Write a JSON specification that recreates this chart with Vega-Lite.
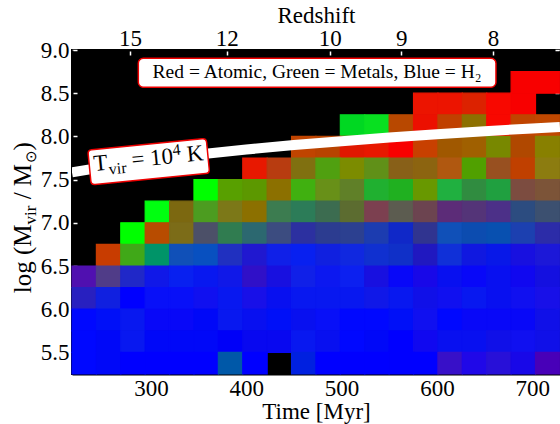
{
  "$schema": "https://vega.github.io/schema/vega-lite/v6.json",
  "width": 488,
  "height": 324,
  "autosize": {"type": "none"},
  "padding": {"left": 72, "top": 50, "right": 0, "bottom": 50},
  "background": "white",
  "config": {
    "font": "Liberation Serif",
    "view": {"fill": "black", "stroke": "black", "strokeWidth": 2},
    "axis": {"grid": false, "labelFont": "Liberation Serif", "titleFont": "Liberation Serif", "labelFontSize": 23, "titleFontSize": 23, "labelColor": "black", "titleColor": "black", "titleFontWeight": "normal", "tickColor": "white", "tickSize": -5, "tickWidth": 1.5, "domainColor": "black", "domainWidth": 2, "labelPadding": 8}
  },
  "datasets": {
    "cells": [
      {"t0":677.9,"t1":703.5,"m0":8.5,"m1":8.75,"rgb":"#f80000"},
      {"t0":703.5,"t1":729.1,"m0":8.5,"m1":8.75,"rgb":"#f80000"},
      {"t0":575.5,"t1":601.1,"m0":8.25,"m1":8.5,"rgb":"#ec1400"},
      {"t0":601.1,"t1":626.7,"m0":8.25,"m1":8.5,"rgb":"#ec1400"},
      {"t0":626.7,"t1":652.3,"m0":8.25,"m1":8.5,"rgb":"#dc2200"},
      {"t0":652.3,"t1":677.9,"m0":8.25,"m1":8.5,"rgb":"#f80800"},
      {"t0":677.9,"t1":703.5,"m0":8.25,"m1":8.5,"rgb":"#f80000"},
      {"t0":498.7,"t1":524.3,"m0":8.0,"m1":8.25,"rgb":"#00d822"},
      {"t0":524.3,"t1":549.9,"m0":8.0,"m1":8.25,"rgb":"#08e020"},
      {"t0":549.9,"t1":575.5,"m0":8.0,"m1":8.25,"rgb":"#b84800"},
      {"t0":575.5,"t1":601.1,"m0":8.0,"m1":8.25,"rgb":"#ec1000"},
      {"t0":601.1,"t1":626.7,"m0":8.0,"m1":8.25,"rgb":"#c04000"},
      {"t0":626.7,"t1":652.3,"m0":8.0,"m1":8.25,"rgb":"#8c7000"},
      {"t0":652.3,"t1":677.9,"m0":8.0,"m1":8.25,"rgb":"#f80800"},
      {"t0":677.9,"t1":703.5,"m0":8.0,"m1":8.25,"rgb":"#c04400"},
      {"t0":703.5,"t1":729.1,"m0":8.0,"m1":8.25,"rgb":"#c04800"},
      {"t0":447.5,"t1":473.1,"m0":7.75,"m1":8.0,"rgb":"#c04400"},
      {"t0":473.1,"t1":498.7,"m0":7.75,"m1":8.0,"rgb":"#b84400"},
      {"t0":498.7,"t1":524.3,"m0":7.75,"m1":8.0,"rgb":"#e01800"},
      {"t0":524.3,"t1":549.9,"m0":7.75,"m1":8.0,"rgb":"#e81800"},
      {"t0":549.9,"t1":575.5,"m0":7.75,"m1":8.0,"rgb":"#f80000"},
      {"t0":575.5,"t1":601.1,"m0":7.75,"m1":8.0,"rgb":"#c84000"},
      {"t0":601.1,"t1":626.7,"m0":7.75,"m1":8.0,"rgb":"#a05800"},
      {"t0":626.7,"t1":652.3,"m0":7.75,"m1":8.0,"rgb":"#a06000"},
      {"t0":652.3,"t1":677.9,"m0":7.75,"m1":8.0,"rgb":"#788800"},
      {"t0":677.9,"t1":703.5,"m0":7.75,"m1":8.0,"rgb":"#b04800"},
      {"t0":703.5,"t1":729.1,"m0":7.75,"m1":8.0,"rgb":"#888000"},
      {"t0":396.3,"t1":421.9,"m0":7.5,"m1":7.75,"rgb":"#e81800"},
      {"t0":421.9,"t1":447.5,"m0":7.5,"m1":7.75,"rgb":"#b83c10"},
      {"t0":447.5,"t1":473.1,"m0":7.5,"m1":7.75,"rgb":"#807010"},
      {"t0":473.1,"t1":498.7,"m0":7.5,"m1":7.75,"rgb":"#50a010"},
      {"t0":498.7,"t1":524.3,"m0":7.5,"m1":7.75,"rgb":"#7c8c00"},
      {"t0":524.3,"t1":549.9,"m0":7.5,"m1":7.75,"rgb":"#609018"},
      {"t0":549.9,"t1":575.5,"m0":7.5,"m1":7.75,"rgb":"#886018"},
      {"t0":575.5,"t1":601.1,"m0":7.5,"m1":7.75,"rgb":"#8c6410"},
      {"t0":601.1,"t1":626.7,"m0":7.5,"m1":7.75,"rgb":"#b05810"},
      {"t0":626.7,"t1":652.3,"m0":7.5,"m1":7.75,"rgb":"#50a000"},
      {"t0":652.3,"t1":677.9,"m0":7.5,"m1":7.75,"rgb":"#985020"},
      {"t0":677.9,"t1":703.5,"m0":7.5,"m1":7.75,"rgb":"#c04000"},
      {"t0":703.5,"t1":729.1,"m0":7.5,"m1":7.75,"rgb":"#8c7c10"},
      {"t0":345.1,"t1":370.7,"m0":7.25,"m1":7.5,"rgb":"#00ff00"},
      {"t0":370.7,"t1":396.3,"m0":7.25,"m1":7.5,"rgb":"#58a000"},
      {"t0":396.3,"t1":421.9,"m0":7.25,"m1":7.5,"rgb":"#5c9800"},
      {"t0":421.9,"t1":447.5,"m0":7.25,"m1":7.5,"rgb":"#8c7000"},
      {"t0":447.5,"t1":473.1,"m0":7.25,"m1":7.5,"rgb":"#40b010"},
      {"t0":473.1,"t1":498.7,"m0":7.25,"m1":7.5,"rgb":"#689018"},
      {"t0":498.7,"t1":524.3,"m0":7.25,"m1":7.5,"rgb":"#608028"},
      {"t0":524.3,"t1":549.9,"m0":7.25,"m1":7.5,"rgb":"#20b030"},
      {"t0":549.9,"t1":575.5,"m0":7.25,"m1":7.5,"rgb":"#20b020"},
      {"t0":575.5,"t1":601.1,"m0":7.25,"m1":7.5,"rgb":"#689800"},
      {"t0":601.1,"t1":626.7,"m0":7.25,"m1":7.5,"rgb":"#20b040"},
      {"t0":626.7,"t1":652.3,"m0":7.25,"m1":7.5,"rgb":"#308c40"},
      {"t0":652.3,"t1":677.9,"m0":7.25,"m1":7.5,"rgb":"#20a040"},
      {"t0":677.9,"t1":703.5,"m0":7.25,"m1":7.5,"rgb":"#7c4c40"},
      {"t0":703.5,"t1":729.1,"m0":7.25,"m1":7.5,"rgb":"#7c5438"},
      {"t0":293.9,"t1":319.5,"m0":7.0,"m1":7.25,"rgb":"#00ff10"},
      {"t0":319.5,"t1":345.1,"m0":7.0,"m1":7.25,"rgb":"#7c6810"},
      {"t0":345.1,"t1":370.7,"m0":7.0,"m1":7.25,"rgb":"#4c9c20"},
      {"t0":370.7,"t1":396.3,"m0":7.0,"m1":7.25,"rgb":"#7c7818"},
      {"t0":396.3,"t1":421.9,"m0":7.0,"m1":7.25,"rgb":"#8c7000"},
      {"t0":421.9,"t1":447.5,"m0":7.0,"m1":7.25,"rgb":"#3c7c50"},
      {"t0":447.5,"t1":473.1,"m0":7.0,"m1":7.25,"rgb":"#2c7c58"},
      {"t0":473.1,"t1":498.7,"m0":7.0,"m1":7.25,"rgb":"#3c6c50"},
      {"t0":498.7,"t1":524.3,"m0":7.0,"m1":7.25,"rgb":"#5c6c30"},
      {"t0":524.3,"t1":549.9,"m0":7.0,"m1":7.25,"rgb":"#7c4050"},
      {"t0":549.9,"t1":575.5,"m0":7.0,"m1":7.25,"rgb":"#5c5c50"},
      {"t0":575.5,"t1":601.1,"m0":7.0,"m1":7.25,"rgb":"#6c4450"},
      {"t0":601.1,"t1":626.7,"m0":7.0,"m1":7.25,"rgb":"#5c2c78"},
      {"t0":626.7,"t1":652.3,"m0":7.0,"m1":7.25,"rgb":"#543478"},
      {"t0":652.3,"t1":677.9,"m0":7.0,"m1":7.25,"rgb":"#4c3088"},
      {"t0":677.9,"t1":703.5,"m0":7.0,"m1":7.25,"rgb":"#2c4c80"},
      {"t0":703.5,"t1":729.1,"m0":7.0,"m1":7.25,"rgb":"#3c5070"},
      {"t0":268.3,"t1":293.9,"m0":6.75,"m1":7.0,"rgb":"#00ff00"},
      {"t0":293.9,"t1":319.5,"m0":6.75,"m1":7.0,"rgb":"#b84c00"},
      {"t0":319.5,"t1":345.1,"m0":6.75,"m1":7.0,"rgb":"#7c6c18"},
      {"t0":345.1,"t1":370.7,"m0":6.75,"m1":7.0,"rgb":"#4c5068"},
      {"t0":370.7,"t1":396.3,"m0":6.75,"m1":7.0,"rgb":"#307c50"},
      {"t0":396.3,"t1":421.9,"m0":6.75,"m1":7.0,"rgb":"#2c6870"},
      {"t0":421.9,"t1":447.5,"m0":6.75,"m1":7.0,"rgb":"#3c4c80"},
      {"t0":447.5,"t1":473.1,"m0":6.75,"m1":7.0,"rgb":"#2c30a0"},
      {"t0":473.1,"t1":498.7,"m0":6.75,"m1":7.0,"rgb":"#2c3c90"},
      {"t0":498.7,"t1":524.3,"m0":6.75,"m1":7.0,"rgb":"#2c4090"},
      {"t0":524.3,"t1":549.9,"m0":6.75,"m1":7.0,"rgb":"#1c3cb0"},
      {"t0":549.9,"t1":575.5,"m0":6.75,"m1":7.0,"rgb":"#1028c8"},
      {"t0":575.5,"t1":601.1,"m0":6.75,"m1":7.0,"rgb":"#303490"},
      {"t0":601.1,"t1":626.7,"m0":6.75,"m1":7.0,"rgb":"#1050b8"},
      {"t0":626.7,"t1":652.3,"m0":6.75,"m1":7.0,"rgb":"#0c4cb0"},
      {"t0":652.3,"t1":677.9,"m0":6.75,"m1":7.0,"rgb":"#0850b0"},
      {"t0":677.9,"t1":703.5,"m0":6.75,"m1":7.0,"rgb":"#1c40b0"},
      {"t0":703.5,"t1":729.1,"m0":6.75,"m1":7.0,"rgb":"#2c2ca8"},
      {"t0":242.7,"t1":268.3,"m0":6.5,"m1":6.75,"rgb":"#c83c00"},
      {"t0":268.3,"t1":293.9,"m0":6.5,"m1":6.75,"rgb":"#40a818"},
      {"t0":293.9,"t1":319.5,"m0":6.5,"m1":6.75,"rgb":"#009468"},
      {"t0":319.5,"t1":345.1,"m0":6.5,"m1":6.75,"rgb":"#1050b8"},
      {"t0":345.1,"t1":370.7,"m0":6.5,"m1":6.75,"rgb":"#0850c0"},
      {"t0":370.7,"t1":396.3,"m0":6.5,"m1":6.75,"rgb":"#2030c0"},
      {"t0":396.3,"t1":421.9,"m0":6.5,"m1":6.75,"rgb":"#2018d0"},
      {"t0":421.9,"t1":447.5,"m0":6.5,"m1":6.75,"rgb":"#1020e8"},
      {"t0":447.5,"t1":473.1,"m0":6.5,"m1":6.75,"rgb":"#0820f0"},
      {"t0":473.1,"t1":498.7,"m0":6.5,"m1":6.75,"rgb":"#1020e0"},
      {"t0":498.7,"t1":524.3,"m0":6.5,"m1":6.75,"rgb":"#1028e0"},
      {"t0":524.3,"t1":549.9,"m0":6.5,"m1":6.75,"rgb":"#1030d0"},
      {"t0":549.9,"t1":575.5,"m0":6.5,"m1":6.75,"rgb":"#1030c8"},
      {"t0":575.5,"t1":601.1,"m0":6.5,"m1":6.75,"rgb":"#2018c0"},
      {"t0":601.1,"t1":626.7,"m0":6.5,"m1":6.75,"rgb":"#1030d8"},
      {"t0":626.7,"t1":652.3,"m0":6.5,"m1":6.75,"rgb":"#1018e0"},
      {"t0":652.3,"t1":677.9,"m0":6.5,"m1":6.75,"rgb":"#0818e8"},
      {"t0":677.9,"t1":703.5,"m0":6.5,"m1":6.75,"rgb":"#1810e0"},
      {"t0":703.5,"t1":729.1,"m0":6.5,"m1":6.75,"rgb":"#1c18d8"},
      {"t0":217.1,"t1":242.7,"m0":6.25,"m1":6.5,"rgb":"#5010b0"},
      {"t0":242.7,"t1":268.3,"m0":6.25,"m1":6.5,"rgb":"#503c88"},
      {"t0":268.3,"t1":293.9,"m0":6.25,"m1":6.5,"rgb":"#2028c8"},
      {"t0":293.9,"t1":319.5,"m0":6.25,"m1":6.5,"rgb":"#1018e8"},
      {"t0":319.5,"t1":345.1,"m0":6.25,"m1":6.5,"rgb":"#0820f0"},
      {"t0":345.1,"t1":370.7,"m0":6.25,"m1":6.5,"rgb":"#0818f0"},
      {"t0":370.7,"t1":396.3,"m0":6.25,"m1":6.5,"rgb":"#1018e8"},
      {"t0":396.3,"t1":421.9,"m0":6.25,"m1":6.5,"rgb":"#3010c8"},
      {"t0":421.9,"t1":447.5,"m0":6.25,"m1":6.5,"rgb":"#1810e0"},
      {"t0":447.5,"t1":473.1,"m0":6.25,"m1":6.5,"rgb":"#1020e8"},
      {"t0":473.1,"t1":498.7,"m0":6.25,"m1":6.5,"rgb":"#0c18f0"},
      {"t0":498.7,"t1":524.3,"m0":6.25,"m1":6.5,"rgb":"#0c20f0"},
      {"t0":524.3,"t1":549.9,"m0":6.25,"m1":6.5,"rgb":"#1810e0"},
      {"t0":549.9,"t1":575.5,"m0":6.25,"m1":6.5,"rgb":"#0808f8"},
      {"t0":575.5,"t1":601.1,"m0":6.25,"m1":6.5,"rgb":"#1808e8"},
      {"t0":601.1,"t1":626.7,"m0":6.25,"m1":6.5,"rgb":"#0810f0"},
      {"t0":626.7,"t1":652.3,"m0":6.25,"m1":6.5,"rgb":"#0808f8"},
      {"t0":652.3,"t1":677.9,"m0":6.25,"m1":6.5,"rgb":"#0810f0"},
      {"t0":677.9,"t1":703.5,"m0":6.25,"m1":6.5,"rgb":"#1008f0"},
      {"t0":703.5,"t1":729.1,"m0":6.25,"m1":6.5,"rgb":"#1410e0"},
      {"t0":217.1,"t1":242.7,"m0":6.0,"m1":6.25,"rgb":"#2820c0"},
      {"t0":242.7,"t1":268.3,"m0":6.0,"m1":6.25,"rgb":"#1020e0"},
      {"t0":268.3,"t1":293.9,"m0":6.0,"m1":6.25,"rgb":"#0000ff"},
      {"t0":293.9,"t1":319.5,"m0":6.0,"m1":6.25,"rgb":"#0810f8"},
      {"t0":319.5,"t1":345.1,"m0":6.0,"m1":6.25,"rgb":"#0810f8"},
      {"t0":345.1,"t1":370.7,"m0":6.0,"m1":6.25,"rgb":"#1010f0"},
      {"t0":370.7,"t1":396.3,"m0":6.0,"m1":6.25,"rgb":"#0818f0"},
      {"t0":396.3,"t1":421.9,"m0":6.0,"m1":6.25,"rgb":"#1810e8"},
      {"t0":421.9,"t1":447.5,"m0":6.0,"m1":6.25,"rgb":"#0810f0"},
      {"t0":447.5,"t1":473.1,"m0":6.0,"m1":6.25,"rgb":"#0818f0"},
      {"t0":473.1,"t1":498.7,"m0":6.0,"m1":6.25,"rgb":"#0818f0"},
      {"t0":498.7,"t1":524.3,"m0":6.0,"m1":6.25,"rgb":"#0818f0"},
      {"t0":524.3,"t1":549.9,"m0":6.0,"m1":6.25,"rgb":"#1018e8"},
      {"t0":549.9,"t1":575.5,"m0":6.0,"m1":6.25,"rgb":"#0818f0"},
      {"t0":575.5,"t1":601.1,"m0":6.0,"m1":6.25,"rgb":"#1010e8"},
      {"t0":601.1,"t1":626.7,"m0":6.0,"m1":6.25,"rgb":"#1010f0"},
      {"t0":626.7,"t1":652.3,"m0":6.0,"m1":6.25,"rgb":"#0818f0"},
      {"t0":652.3,"t1":677.9,"m0":6.0,"m1":6.25,"rgb":"#0810f0"},
      {"t0":677.9,"t1":703.5,"m0":6.0,"m1":6.25,"rgb":"#1010f0"},
      {"t0":703.5,"t1":729.1,"m0":6.0,"m1":6.25,"rgb":"#1810e8"},
      {"t0":217.1,"t1":242.7,"m0":5.75,"m1":6.0,"rgb":"#0008ff"},
      {"t0":242.7,"t1":268.3,"m0":5.75,"m1":6.0,"rgb":"#0010f8"},
      {"t0":268.3,"t1":293.9,"m0":5.75,"m1":6.0,"rgb":"#0818f0"},
      {"t0":293.9,"t1":319.5,"m0":5.75,"m1":6.0,"rgb":"#0808f8"},
      {"t0":319.5,"t1":345.1,"m0":5.75,"m1":6.0,"rgb":"#0808f8"},
      {"t0":345.1,"t1":370.7,"m0":5.75,"m1":6.0,"rgb":"#0008f8"},
      {"t0":370.7,"t1":396.3,"m0":5.75,"m1":6.0,"rgb":"#0818f0"},
      {"t0":396.3,"t1":421.9,"m0":5.75,"m1":6.0,"rgb":"#0810f0"},
      {"t0":421.9,"t1":447.5,"m0":5.75,"m1":6.0,"rgb":"#0010f8"},
      {"t0":447.5,"t1":473.1,"m0":5.75,"m1":6.0,"rgb":"#0810f0"},
      {"t0":473.1,"t1":498.7,"m0":5.75,"m1":6.0,"rgb":"#0810f8"},
      {"t0":498.7,"t1":524.3,"m0":5.75,"m1":6.0,"rgb":"#0008ff"},
      {"t0":524.3,"t1":549.9,"m0":5.75,"m1":6.0,"rgb":"#0008ff"},
      {"t0":549.9,"t1":575.5,"m0":5.75,"m1":6.0,"rgb":"#0010f8"},
      {"t0":575.5,"t1":601.1,"m0":5.75,"m1":6.0,"rgb":"#1010f0"},
      {"t0":601.1,"t1":626.7,"m0":5.75,"m1":6.0,"rgb":"#0008ff"},
      {"t0":626.7,"t1":652.3,"m0":5.75,"m1":6.0,"rgb":"#0808f8"},
      {"t0":652.3,"t1":677.9,"m0":5.75,"m1":6.0,"rgb":"#0808f8"},
      {"t0":677.9,"t1":703.5,"m0":5.75,"m1":6.0,"rgb":"#0808f8"},
      {"t0":703.5,"t1":729.1,"m0":5.75,"m1":6.0,"rgb":"#1010e8"},
      {"t0":217.1,"t1":242.7,"m0":5.5,"m1":5.75,"rgb":"#0008ff"},
      {"t0":242.7,"t1":268.3,"m0":5.5,"m1":5.75,"rgb":"#0008f8"},
      {"t0":268.3,"t1":293.9,"m0":5.5,"m1":5.75,"rgb":"#0818f0"},
      {"t0":293.9,"t1":319.5,"m0":5.5,"m1":5.75,"rgb":"#0008f8"},
      {"t0":319.5,"t1":345.1,"m0":5.5,"m1":5.75,"rgb":"#0008f8"},
      {"t0":345.1,"t1":370.7,"m0":5.5,"m1":5.75,"rgb":"#0008f8"},
      {"t0":370.7,"t1":396.3,"m0":5.5,"m1":5.75,"rgb":"#0000f8"},
      {"t0":396.3,"t1":421.9,"m0":5.5,"m1":5.75,"rgb":"#0808f0"},
      {"t0":421.9,"t1":447.5,"m0":5.5,"m1":5.75,"rgb":"#0808f0"},
      {"t0":447.5,"t1":473.1,"m0":5.5,"m1":5.75,"rgb":"#0818f0"},
      {"t0":473.1,"t1":498.7,"m0":5.5,"m1":5.75,"rgb":"#0810f0"},
      {"t0":498.7,"t1":524.3,"m0":5.5,"m1":5.75,"rgb":"#0008ff"},
      {"t0":524.3,"t1":549.9,"m0":5.5,"m1":5.75,"rgb":"#0008f8"},
      {"t0":549.9,"t1":575.5,"m0":5.5,"m1":5.75,"rgb":"#0000ff"},
      {"t0":575.5,"t1":601.1,"m0":5.5,"m1":5.75,"rgb":"#1008f0"},
      {"t0":601.1,"t1":626.7,"m0":5.5,"m1":5.75,"rgb":"#0810f0"},
      {"t0":626.7,"t1":652.3,"m0":5.5,"m1":5.75,"rgb":"#0810f0"},
      {"t0":652.3,"t1":677.9,"m0":5.5,"m1":5.75,"rgb":"#1010e8"},
      {"t0":677.9,"t1":703.5,"m0":5.5,"m1":5.75,"rgb":"#1010f0"},
      {"t0":703.5,"t1":729.1,"m0":5.5,"m1":5.75,"rgb":"#1010e8"},
      {"t0":217.1,"t1":242.7,"m0":5.25,"m1":5.5,"rgb":"#0008ff"},
      {"t0":242.7,"t1":268.3,"m0":5.25,"m1":5.5,"rgb":"#0008f8"},
      {"t0":268.3,"t1":293.9,"m0":5.25,"m1":5.5,"rgb":"#0000ff"},
      {"t0":293.9,"t1":319.5,"m0":5.25,"m1":5.5,"rgb":"#0000ff"},
      {"t0":319.5,"t1":345.1,"m0":5.25,"m1":5.5,"rgb":"#0000ff"},
      {"t0":345.1,"t1":370.7,"m0":5.25,"m1":5.5,"rgb":"#0000ff"},
      {"t0":370.7,"t1":396.3,"m0":5.25,"m1":5.5,"rgb":"#0058a8"},
      {"t0":396.3,"t1":421.9,"m0":5.25,"m1":5.5,"rgb":"#0000ff"},
      {"t0":447.5,"t1":473.1,"m0":5.25,"m1":5.5,"rgb":"#0020e0"},
      {"t0":473.1,"t1":498.7,"m0":5.25,"m1":5.5,"rgb":"#0000ff"},
      {"t0":498.7,"t1":524.3,"m0":5.25,"m1":5.5,"rgb":"#0000ff"},
      {"t0":524.3,"t1":549.9,"m0":5.25,"m1":5.5,"rgb":"#0000ff"},
      {"t0":549.9,"t1":575.5,"m0":5.25,"m1":5.5,"rgb":"#0000ff"},
      {"t0":575.5,"t1":601.1,"m0":5.25,"m1":5.5,"rgb":"#0000ff"},
      {"t0":601.1,"t1":626.7,"m0":5.25,"m1":5.5,"rgb":"#3810c8"},
      {"t0":626.7,"t1":652.3,"m0":5.25,"m1":5.5,"rgb":"#2008e8"},
      {"t0":652.3,"t1":677.9,"m0":5.25,"m1":5.5,"rgb":"#2810d8"},
      {"t0":677.9,"t1":703.5,"m0":5.25,"m1":5.5,"rgb":"#1808e8"},
      {"t0":703.5,"t1":729.1,"m0":5.25,"m1":5.5,"rgb":"#4800b8"}
    ],
    "tvir": [
      {"t": 217.1, "logM": 7.583},
      {"t": 250, "logM": 7.645},
      {"t": 300, "logM": 7.723},
      {"t": 350, "logM": 7.79},
      {"t": 400, "logM": 7.848},
      {"t": 450, "logM": 7.9},
      {"t": 500, "logM": 7.945},
      {"t": 550, "logM": 7.987},
      {"t": 600, "logM": 8.025},
      {"t": 650, "logM": 8.06},
      {"t": 700, "logM": 8.092},
      {"t": 729.1, "logM": 8.11}
    ]
  },
  "layer": [
    {
      "data": {"name": "cells"},
      "mark": {"type": "rect", "strokeWidth": 1.2},
      "encoding": {
        "x": {"field": "t0", "type": "quantitative", "scale": {"domain": [217.1, 729.2], "nice": false, "zero": false},
              "axis": {"orient": "bottom", "values": [300, 400, 500, 600, 700], "format": "d", "title": "Time [Myr]", "titlePadding": 0}},
        "x2": {"field": "t1"},
        "y": {"field": "m0", "type": "quantitative", "scale": {"domain": [5.25, 9], "nice": false, "zero": false},
              "axis": {"orient": "left", "values": [5.5, 6, 6.5, 7, 7.5, 8, 8.5, 9], "format": ".1f", "title": null}},
        "y2": {"field": "m1"},
        "fill": {"field": "rgb", "type": "nominal", "scale": null, "legend": null},
        "stroke": {"field": "rgb", "type": "nominal", "scale": null, "legend": null}
      }
    },
    {
      "data": {"name": "tvir"},
      "mark": {"type": "line", "color": "white", "strokeWidth": 10, "clip": true},
      "encoding": {
        "x": {"field": "t", "type": "quantitative", "scale": {"domain": [217.1, 729.2], "nice": false, "zero": false},
              "axis": {"orient": "top", "values": [278, 379.6, 487.5, 562.6, 658.8], "labelExpr": "datum.value < 300 ? '15' : datum.value < 400 ? '12' : datum.value < 500 ? '10' : datum.value < 600 ? '9' : '8'", "title": "Redshift", "labelPadding": 5, "titlePadding": 0}},
        "y": {"field": "logM", "type": "quantitative", "scale": {"domain": [5.25, 9], "nice": false, "zero": false},
              "axis": {"orient": "right", "values": [5.5, 6, 6.5, 7, 7.5, 8, 8.5, 9], "labels": false, "title": null}}
      }
    },
    {
      "data": {"values": [{"note": "Red = Atomic, Green = Metals, Blue = H₂"}]},
      "layer": [
        {
          "mark": {"type": "rect", "fill": "white", "stroke": "#ee0000", "strokeWidth": 1.5, "cornerRadius": 5},
          "encoding": {
            "x": {"datum": 286.7, "type": "quantitative", "axis": null},
            "x2": {"datum": 662},
            "y": {"datum": 8.569, "type": "quantitative", "axis": null},
            "y2": {"datum": 8.904}
          }
        },
        {
          "mark": {"type": "text", "fontSize": 19.5, "align": "center", "baseline": "middle", "color": "black", "font": "Liberation Serif"},
          "encoding": {
            "x": {"datum": 474.3, "type": "quantitative", "axis": null},
            "y": {"datum": 8.74, "type": "quantitative", "axis": null},
            "text": {"field": "note"}
          }
        }
      ]
    },
    {
      "data": {"values": [{"a": "T", "b": "vir", "c": "= 10", "d": "4", "e": "K"}]},
      "encoding": {
        "x": {"datum": 297.6, "type": "quantitative", "axis": null},
        "y": {"datum": 7.708, "type": "quantitative", "axis": null}
      },
      "layer": [
        {"mark": {"type": "point", "shape": "M -0.933 -0.294 L 0.933 -0.294 Q 1 -0.294 1 -0.227 L 1 0.227 Q 1 0.294 0.933 0.294 L -0.933 0.294 Q -1 0.294 -1 0.227 L -1 -0.227 Q -1 -0.294 -0.933 -0.294 Z", "size": 14161, "angle": 354.4, "filled": true, "fill": "white", "stroke": "#ee0000", "strokeWidth": 1.5, "opacity": 1}},
        {"mark": {"type": "text", "fontSize": 23, "align": "left", "baseline": "alphabetic", "angle": 354.4, "dx": -55, "dy": 4, "color": "black"}, "encoding": {"text": {"field": "a"}}},
        {"mark": {"type": "text", "fontSize": 16, "align": "left", "baseline": "alphabetic", "angle": 354.4, "dx": -40.5, "dy": 9, "color": "black"}, "encoding": {"text": {"field": "b"}}},
        {"mark": {"type": "text", "fontSize": 23, "align": "left", "baseline": "alphabetic", "angle": 354.4, "dx": -17, "dy": 4, "color": "black"}, "encoding": {"text": {"field": "c"}}},
        {"mark": {"type": "text", "fontSize": 16, "align": "left", "baseline": "alphabetic", "angle": 354.4, "dx": 24.7, "dy": -4, "color": "black"}, "encoding": {"text": {"field": "d"}}},
        {"mark": {"type": "text", "fontSize": 23, "align": "left", "baseline": "alphabetic", "angle": 354.4, "dx": 38.5, "dy": 4, "color": "black"}, "encoding": {"text": {"field": "e"}}}
      ]
    },
    {
      "data": {"values": [{"a": "log (M", "b": "vir", "c": "/ M", "d": "⊙", "e": ")"}]},
      "encoding": {
        "x": {"datum": 174.1, "type": "quantitative", "axis": null},
        "y": {"datum": 7.056, "type": "quantitative", "axis": null}
      },
      "layer": [
        {"mark": {"type": "text", "fontSize": 25, "align": "left", "baseline": "alphabetic", "angle": 270, "dx": -75.3, "dy": 0, "color": "black", "clip": false}, "encoding": {"text": {"field": "a"}}},
        {"mark": {"type": "text", "fontSize": 17, "align": "left", "baseline": "alphabetic", "angle": 270, "dx": -6.5, "dy": 5, "color": "black", "clip": false}, "encoding": {"text": {"field": "b"}}},
        {"mark": {"type": "text", "fontSize": 25, "align": "left", "baseline": "alphabetic", "angle": 270, "dx": 18.6, "dy": 0, "color": "black", "clip": false}, "encoding": {"text": {"field": "c"}}},
        {"mark": {"type": "text", "fontSize": 15, "align": "left", "baseline": "alphabetic", "angle": 270, "dx": 54.5, "dy": 5, "color": "black", "clip": false}, "encoding": {"text": {"field": "d"}}},
        {"mark": {"type": "text", "fontSize": 25, "align": "left", "baseline": "alphabetic", "angle": 270, "dx": 67.5, "dy": 0, "color": "black", "clip": false}, "encoding": {"text": {"field": "e"}}}
      ]
    }
  ],
  "resolve": {"axis": {"x": "independent", "y": "independent"}}
}
